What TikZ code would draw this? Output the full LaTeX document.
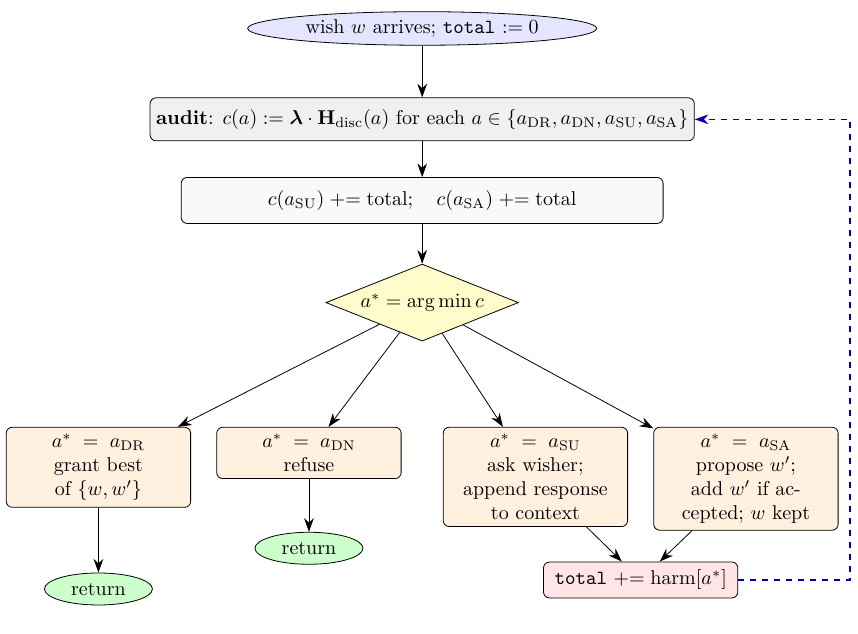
\documentclass[tikz,border=0pt]{standalone}
\usepackage{amsmath}
\usepackage{amssymb}
\usetikzlibrary{positioning,calc,shapes.geometric,arrows.meta}

\begin{document}
\begin{tikzpicture}[
>={Stealth[length=2.4mm,width=1.7mm]},
terminal/.style={ellipse, draw, fill=blue!10, inner xsep=3.4pt, inner ysep=1.5pt},
finish/.style={ellipse, draw, fill=green!20, minimum width=54pt, minimum height=16pt, inner sep=1pt},
stage/.style={rectangle, rounded corners=3pt, draw, minimum height=21.5pt, inner xsep=3pt},
decide/.style={diamond, draw, fill=yellow!20, aspect=2.5, inner sep=1.8pt},
act/.style={rectangle, rounded corners=3pt, draw, fill=orange!12, text width=3.1cm, inner xsep=2pt, align=center, anchor=north},
sum/.style={rectangle, rounded corners=3pt, draw, fill=red!10, inner xsep=5.5pt, inner ysep=4pt},
feedback/.style={->, dashed, thick, draw=blue!65!black}
]
\useasboundingbox (0,0) rectangle (15.08,-11.13);

\node[terminal] (start) at (7.42,-0.50) {wish $w$ arrives; \texttt{total} $:= 0$};
\node[stage, fill=gray!12, below=0.91cm of start] (audit)
  {\textbf{audit}: $c(a) := \boldsymbol{\lambda}\cdot\mathbf{H}_{\mathrm{disc}}(a)$ for each $a\in\{a_{\mathrm{DR}},a_{\mathrm{DN}},a_{\mathrm{SU}},a_{\mathrm{SA}}\}$};
\node[stage, fill=gray!5, minimum width=8.47cm, minimum height=23pt, below=0.63cm of audit] (adjust)
  {$c(a_{\mathrm{SU}}) \mathrel{+}= \text{total};\quad c(a_{\mathrm{SA}}) \mathrel{+}= \text{total}$};
\node[decide, below=0.7cm of adjust] (choose) {$a^* = \arg\min c$};

% the four actions
\node[act] (dr) at ([shift={(-5.69,-1.5)}]choose.south)
  {$a^* = a_{\mathrm{DR}}$\\ grant best of $\{w,w'\}$};
\node[act] (dn) at ([shift={(-1.99,-1.5)}]choose.south)
  {$a^* = a_{\mathrm{DN}}$\\ refuse};
\node[act] (su) at ([shift={(1.99,-1.5)}]choose.south)
  {$a^* = a_{\mathrm{SU}}$\\ ask wisher;\\ append response to context};
\node[act] (sa) at ([shift={(5.69,-1.5)}]choose.south)
  {$a^* = a_{\mathrm{SA}}$\\ propose $w'$;\\ add $w'$ if accepted; $w$ kept};

\node[finish, below=1.14cm of dr] (drend) {return};
\node[finish, below=0.93cm of dn] (dnend) {return};
\node[sum] (tot) at ([yshift=-0.9cm]$(su.south)!0.5!(sa.south)$)
  {\texttt{total} $\mathrel{+}= \mathrm{harm}[a^*]$};
\coordinate (back) at (14.94,0);

\draw[->] (start) -- (audit);
\draw[->] (audit) -- (adjust);
\draw[->] (adjust) -- (choose);
\draw[->] (choose) -- (dr);
\draw[->] (choose) -- (dn);
\draw[->] (choose) -- (su);
\draw[->] (choose) -- (sa);
\draw[->] (dr) -- (drend);
\draw[->] (dn) -- (dnend);
\draw[->] (su) -- (tot);
\draw[->] (sa) -- (tot);
\draw[feedback] (tot.east) -- (tot.east -| back) |- (audit.east);
\end{tikzpicture}
\end{document}
